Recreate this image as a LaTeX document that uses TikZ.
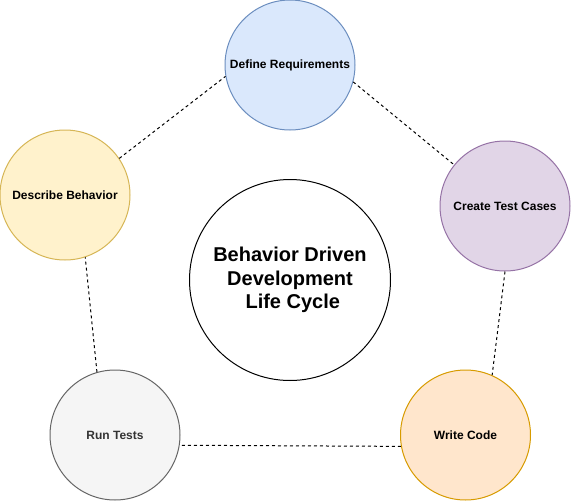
\documentclass[tikz,border=0pt]{standalone}
\usepackage{fontspec}
\setmainfont{Liberation Sans}
\definecolor{bfill}{HTML}{DAE8FC}\definecolor{bline}{HTML}{6C8EBF}
\definecolor{yfill}{HTML}{FFF2CC}\definecolor{yline}{HTML}{D6B656}
\definecolor{pfill}{HTML}{E1D5E7}\definecolor{pline}{HTML}{9673A6}
\definecolor{ofill}{HTML}{FFE6CC}\definecolor{oline}{HTML}{D79B00}
\definecolor{gfill}{HTML}{F5F5F5}\definecolor{gline}{HTML}{666666}
\definecolor{gtext}{HTML}{333333}
\tikzset{
  stage/.style={circle, draw, line width=1pt, minimum size=130pt, inner sep=0pt,
    font=\fontsize{12}{14}\selectfont\bfseries},
  hub/.style={circle, draw=black, fill=white, line width=1pt, minimum size=201pt, inner sep=0pt,
    align=center, font=\fontsize{20}{23.5}\selectfont\bfseries},
  link/.style={draw=black, line width=1pt, dash pattern=on 3pt off 3pt}
}
\begin{document}
\begin{tikzpicture}[x=1pt,y=-1pt]
\useasboundingbox (0,0) rectangle (571,501);
\node[hub] (hub) at (290,280) {Behavior Driven\\Development\\\ Life Cycle};
\node[stage, fill=bfill, draw=bline] (req) at (290,65) {Define Requirements};
\node[stage, fill=pfill, draw=pline] (tc) at (505,206) {Create Test Cases};
\node[stage, fill=ofill, draw=oline] (wc) at (465.5,435) {Write Code};
\node[stage, fill=gfill, draw=gline, text=gtext] (rt) at (115,435) {Run Tests};
\node[stage, fill=yfill, draw=yline] (db) at (65,195) {Describe Behavior};
\draw[link] (db.34) -- (req.190.8);
\draw[link] (req.-15) -- (tc.141.7);
\draw[link] (tc.270) -- (wc.66);
\draw[link] (wc.190.5) -- (rt.-9);
\draw[link] (rt.106) -- (db.-72);
\end{tikzpicture}
\end{document}
